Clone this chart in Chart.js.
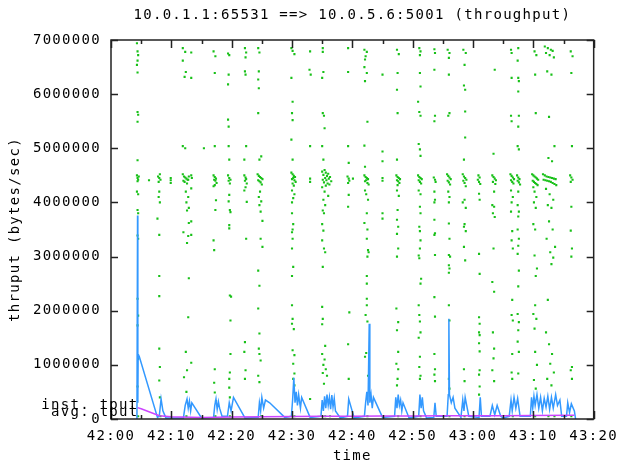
<!DOCTYPE html>
<html>
<head>
<meta charset="utf-8">
<script src="https://cdn.jsdelivr.net/npm/chart.js@4/dist/chart.umd.min.js"></script>
<style>
  body { margin: 0; background: #fff; }
  canvas { display: block; }
</style>
</head>
<body>
<canvas id="tputChart" width="627" height="465"></canvas>
<script>
// seconds after 42:00, bytes/sec
var titleText = '10.0.1.1:65531 ==> 10.0.5.6:5001 (throughput)';
var xTickLabels = ['42:00', '42:10', '42:20', '42:30', '42:40', '42:50', '43:00', '43:10', '43:20'];
var yTickLabels = ['0', '1000000', '2000000', '3000000', '4000000', '5000000', '6000000', '7000000'];

// green dots, instantaneous samples [time, value]
var instTput = [
  // ~42:04
  [4.3,6.94e6],[4.4,6.79e6],[4.5,6.72e6],[4.4,6.62e6],[4.3,6.54e6],[4.4,6.40e6],[4.4,5.67e6],[4.5,5.62e6],[4.4,5.49e6],
  [4.4,4.78e6],[4.3,4.50e6],[4.4,4.45e6],[4.5,4.42e6],[4.6,4.48e6],[4.4,4.39e6],[4.3,4.20e6],[4.5,4.15e6],[4.4,3.86e6],
  [4.5,3.80e6],[4.4,3.39e6],[4.5,3.33e6],[4.4,2.22e6],[4.5,1.91e6],[4.4,1.73e6],[4.5,1.11e6],[4.4,0.60e6],[4.5,0.05e6],
  [6.3,4.41e6],
  // ~42:08
  [7.8,4.48e6],[8.0,4.45e6],[8.2,4.42e6],[7.9,4.38e6],[8.1,4.52e6],[8.0,4.20e6],[7.9,4.10e6],[8.1,4.00e6],[7.7,3.70e6],
  [8.0,3.40e6],[8.0,2.64e6],[8.0,2.27e6],[8.0,1.30e6],[8.1,0.96e6],[8.0,0.71e6],[8.1,0.40e6],[8.2,0.05e6],
  [9.9,4.45e6],[9.9,4.41e6],[9.9,4.36e6],
  // ~42:12
  [11.9,6.85e6],[12.3,6.78e6],[11.9,6.62e6],[12.4,6.41e6],[12.2,6.32e6],[11.9,5.04e6],[12.3,5.00e6],[11.9,4.52e6],
  [12.1,4.48e6],[12.3,4.46e6],[12.5,4.44e6],[12.7,4.42e6],[12.0,4.40e6],[12.2,4.38e6],[12.6,4.35e6],[12.9,4.48e6],
  [12.8,4.42e6],[12.4,4.20e6],[12.8,4.10e6],[12.5,4.00e6],[12.9,3.90e6],[12.6,3.85e6],[12.9,3.62e6],[12.0,3.45e6],
  [12.8,3.38e6],[12.6,3.25e6],[12.9,2.60e6],[12.8,1.88e6],[12.4,1.24e6],[12.6,0.90e6],[12.1,0.77e6],[12.5,0.50e6],[12.5,0.05e6],
  [13.3,6.77e6],[13.3,6.30e6],[13.3,4.50e6],[13.4,4.45e6],[13.3,4.26e6],[13.3,3.65e6],[13.3,3.40e6],[13.3,1.04e6],
  [15.4,5.00e6],
  // ~42:17
  [17.0,6.79e6],[17.3,6.70e6],[17.2,6.39e6],[17.2,5.04e6],[17.0,4.50e6],[17.2,4.47e6],[17.4,4.44e6],[17.1,4.42e6],
  [17.3,4.40e6],[17.5,4.36e6],[17.2,4.32e6],[17.0,4.30e6],[17.4,4.04e6],[17.3,3.86e6],[17.0,3.30e6],[17.1,3.12e6],
  [17.2,0.92e6],[17.1,0.67e6],[17.2,0.49e6],[17.4,0.33e6],[17.3,0.05e6],
  [19.4,6.75e6],[19.6,6.72e6],[19.5,6.36e6],[19.4,6.18e6],[19.4,5.53e6],[19.5,5.40e6],[19.5,5.04e6],[19.6,4.79e6],
  [19.4,4.50e6],[19.6,4.45e6],[19.8,4.42e6],[19.5,4.40e6],[19.7,4.35e6],[19.6,4.14e6],[19.5,4.02e6],[19.7,3.86e6],
  [19.8,3.82e6],[19.6,3.58e6],[19.6,3.52e6],[19.7,2.28e6],[19.9,2.26e6],[19.8,1.82e6],[19.8,1.20e6],[19.7,0.86e6],
  [19.6,0.74e6],[19.6,0.58e6],[19.7,0.40e6],[19.7,0.05e6],
  // ~42:22
  [22.2,6.85e6],[22.4,6.77e6],[22.3,6.68e6],[22.2,6.42e6],[22.3,6.36e6],[22.4,5.04e6],[22.1,4.79e6],[22.1,4.50e6],
  [22.3,4.46e6],[22.4,4.43e6],[22.2,4.40e6],[22.5,4.35e6],[22.3,4.28e6],[22.1,4.22e6],[22.5,4.01e6],[22.4,3.33e6],
  [22.2,1.42e6],[22.1,1.24e6],[22.3,0.90e6],[22.2,0.74e6],
  [24.4,6.85e6],[24.6,6.77e6],[24.5,6.42e6],[24.4,6.27e6],[24.5,6.11e6],[24.4,5.65e6],[24.9,4.85e6],[24.6,4.79e6],
  [24.3,4.52e6],[24.5,4.49e6],[24.7,4.47e6],[24.9,4.45e6],[25.1,4.43e6],[24.4,4.41e6],[24.6,4.39e6],[24.8,4.37e6],
  [25.0,4.33e6],[24.7,4.20e6],[24.5,4.10e6],[24.9,4.02e6],[24.6,3.95e6],[24.8,3.83e6],[25.1,3.66e6],[24.8,3.33e6],
  [25.1,3.18e6],[24.4,2.74e6],[24.6,2.46e6],[24.4,2.04e6],[24.6,1.58e6],[24.5,1.30e6],[24.6,1.20e6],[24.8,1.08e6],
  [24.4,0.80e6],[24.6,0.68e6],[24.9,0.05e6],
  // ~42:30
  [29.9,6.85e6],[30.1,6.80e6],[30.4,6.74e6],[29.9,6.30e6],[30.1,5.86e6],[30.0,5.65e6],[30.1,5.52e6],[29.9,5.16e6],
  [30.1,4.79e6],[29.9,4.55e6],[30.1,4.52e6],[30.3,4.49e6],[30.5,4.47e6],[30.2,4.45e6],[30.0,4.43e6],[30.4,4.41e6],
  [30.6,4.38e6],[30.1,4.35e6],[30.3,4.31e6],[30.0,4.22e6],[30.4,4.15e6],[30.2,4.08e6],[30.0,4.00e6],[30.0,3.80e6],
  [30.2,3.60e6],[30.1,3.50e6],[30.0,3.45e6],[30.1,3.33e6],[30.0,3.15e6],[30.2,2.81e6],[30.0,2.64e6],[30.0,2.10e6],
  [30.1,1.85e6],[30.0,1.76e6],[30.3,1.66e6],[30.1,1.27e6],[30.4,1.18e6],[30.2,1.02e6],[30.4,0.84e6],[30.2,0.74e6],
  [30.4,0.62e6],[30.4,0.05e6],
  [33.0,6.79e6],[32.9,6.45e6],[33.1,6.36e6],[33.0,5.04e6],[33.0,4.44e6],[33.0,4.38e6],[33.0,0.37e6],
  // ~42:36
  [35.1,6.85e6],[35.1,6.78e6],[35.2,6.41e6],[35.0,6.30e6],[35.1,5.65e6],[35.3,5.60e6],[35.4,5.37e6],[35.0,5.04e6],
  [35.2,4.79e6],[35.4,4.60e6],[35.0,4.57e6],[35.6,4.55e6],[36.0,4.53e6],[35.2,4.51e6],[35.8,4.49e6],[36.3,4.47e6],
  [35.5,4.45e6],[36.1,4.44e6],[35.1,4.42e6],[35.7,4.41e6],[36.5,4.39e6],[35.3,4.37e6],[35.9,4.35e6],[36.2,4.33e6],
  [35.6,4.31e6],[35.0,4.28e6],[35.4,4.20e6],[36.0,4.12e6],[35.2,4.05e6],[35.5,3.95e6],[35.1,3.85e6],[35.3,3.80e6],
  [35.0,3.60e6],[35.2,3.48e6],[35.0,3.30e6],[35.3,3.15e6],[35.5,3.08e6],[35.1,2.81e6],[35.0,2.07e6],[35.1,1.85e6],
  [35.0,1.75e6],[35.5,1.35e6],[35.0,1.20e6],[35.4,1.10e6],[35.2,1.00e6],[35.6,0.92e6],[35.1,0.85e6],[35.8,0.80e6],
  [35.3,0.65e6],[35.5,0.05e6],[36.3,0.05e6],
  [39.3,6.85e6],[39.3,6.41e6],[39.3,5.04e6],[39.4,4.73e6],[39.2,4.48e6],[39.4,4.44e6],[39.5,4.40e6],[39.3,4.36e6],
  [39.4,4.14e6],[39.3,3.92e6],[39.5,1.97e6],[39.3,1.38e6],[39.4,0.74e6],
  [40.1,4.44e6],
  // ~42:42
  [42.0,6.82e6],[42.4,6.78e6],[42.2,6.70e6],[42.1,6.64e6],[42.0,6.50e6],[42.4,6.39e6],[42.1,6.24e6],[42.5,5.49e6],
  [42.0,5.05e6],[42.1,4.66e6],[42.0,4.50e6],[42.2,4.47e6],[42.4,4.45e6],[42.6,4.43e6],[42.3,4.41e6],[42.1,4.39e6],
  [42.5,4.36e6],[42.7,4.33e6],[42.1,4.22e6],[42.3,4.15e6],[42.6,4.05e6],[42.4,3.80e6],[42.0,3.62e6],[42.5,3.50e6],
  [42.4,3.33e6],[42.6,3.12e6],[42.7,3.08e6],[42.5,3.00e6],[42.4,2.64e6],[42.4,2.50e6],[42.4,2.22e6],[42.4,2.10e6],
  [42.2,1.92e6],[42.5,1.80e6],[42.3,1.22e6],[42.1,1.15e6],[42.6,0.80e6],[42.5,0.05e6],
  [45.0,6.36e6],[45.0,4.94e6],[45.0,4.76e6],[45.0,4.45e6],[45.0,4.40e6],[45.0,3.80e6],[45.0,3.70e6],
  // ~42:47
  [47.4,6.82e6],[47.7,6.74e6],[47.5,6.39e6],[47.4,6.08e6],[47.5,5.65e6],[47.4,4.79e6],[47.3,4.50e6],[47.5,4.47e6],
  [47.7,4.45e6],[47.9,4.43e6],[47.4,4.41e6],[47.6,4.39e6],[47.8,4.36e6],[47.5,4.32e6],[47.4,4.22e6],[47.7,4.12e6],
  [47.5,3.86e6],[47.4,3.68e6],[47.6,3.55e6],[47.4,3.42e6],[47.6,3.15e6],[47.4,3.00e6],[47.3,2.04e6],[47.6,1.79e6],
  [47.4,1.64e6],[47.6,1.24e6],[47.3,1.02e6],[47.6,0.92e6],[47.5,0.74e6],[47.4,0.62e6],[47.6,0.05e6],
  // ~42:51
  [51.1,6.85e6],[51.3,6.79e6],[51.2,6.72e6],[51.2,6.39e6],[51.3,6.14e6],[50.9,5.86e6],[51.1,5.67e6],[51.3,5.60e6],
  [51.0,5.08e6],[51.2,4.98e6],[51.3,4.86e6],[50.9,4.50e6],[51.1,4.47e6],[51.3,4.45e6],[51.5,4.43e6],[51.0,4.41e6],
  [51.2,4.38e6],[51.4,4.35e6],[51.0,4.22e6],[51.3,4.15e6],[51.2,3.92e6],[51.3,3.80e6],[51.1,3.55e6],[51.2,3.47e6],
  [51.3,3.30e6],[51.2,3.15e6],[51.0,3.02e6],[51.1,2.97e6],[51.4,2.59e6],[51.3,2.50e6],[51.0,2.10e6],[51.1,1.92e6],
  [51.2,1.80e6],[51.3,1.60e6],[51.0,1.50e6],[51.2,1.15e6],[51.1,0.96e6],[51.3,0.80e6],[51.2,0.74e6],[51.3,0.05e6],
  // ~42:53
  [53.6,6.83e6],[53.7,6.76e6],[53.6,6.45e6],[53.7,5.60e6],[53.6,5.50e6],[53.5,4.46e6],[53.7,4.42e6],[53.8,4.38e6],
  [53.6,4.20e6],[53.7,4.05e6],[53.6,4.00e6],[53.6,3.68e6],[53.7,3.43e6],[53.6,3.40e6],[53.7,3.03e6],[53.6,2.25e6],
  [53.7,1.89e6],[53.6,1.20e6],[53.7,0.92e6],[53.6,0.82e6],[53.7,0.70e6],
  // ~42:56
  [55.8,6.82e6],[56.1,6.76e6],[56.0,6.67e6],[56.0,6.36e6],[56.1,5.65e6],[55.9,5.60e6],[55.7,4.52e6],[55.9,4.49e6],
  [56.1,4.46e6],[56.3,4.43e6],[55.8,4.40e6],[56.0,4.37e6],[56.2,4.33e6],[55.9,4.20e6],[56.1,4.10e6],[56.0,4.00e6],
  [56.0,3.61e6],[56.1,3.33e6],[56.0,3.03e6],[56.2,3.00e6],[56.0,2.84e6],[56.1,2.78e6],[56.0,2.70e6],[56.0,2.10e6],
  [56.1,1.82e6],[56.0,0.74e6],[56.1,0.56e6],[56.1,0.05e6],
  [58.4,6.82e6],[58.8,6.76e6],[58.6,6.54e6],[58.5,6.16e6],[58.7,6.08e6],[58.7,5.68e6],[58.7,5.20e6],[58.5,4.79e6],
  [58.3,4.52e6],[58.5,4.48e6],[58.7,4.45e6],[58.9,4.42e6],[58.4,4.40e6],[58.6,4.36e6],[58.8,4.30e6],[58.6,4.05e6],
  [58.3,4.00e6],[58.8,3.90e6],[58.6,3.60e6],[58.5,3.55e6],[58.8,3.47e6],[58.5,3.18e6],[58.7,2.93e6],[58.5,0.92e6],
  [58.6,0.70e6],[58.6,0.05e6],
  // ~43:01
  [60.9,4.50e6],[61.1,4.46e6],[60.8,4.42e6],[61.0,4.38e6],[61.2,4.34e6],[61.0,4.16e6],[61.1,4.05e6],[61.0,3.05e6],
  [61.1,2.68e6],[61.0,1.88e6],[61.1,1.76e6],[61.0,1.60e6],[61.1,1.55e6],[61.0,1.40e6],[61.1,1.25e6],[61.1,0.90e6],
  [61.0,0.82e6],[61.1,0.60e6],[61.0,0.45e6],
  [63.6,6.45e6],[63.4,4.90e6],[63.2,4.50e6],[63.4,4.47e6],[63.6,4.44e6],[63.8,4.41e6],[63.3,4.38e6],[63.7,4.34e6],
  [63.5,4.20e6],[63.2,3.95e6],[63.5,3.92e6],[63.3,3.80e6],[63.6,3.73e6],[63.4,3.15e6],[63.2,2.53e6],[63.5,2.35e6],
  [63.3,1.60e6],[63.5,1.30e6],[63.4,1.12e6],[63.2,0.90e6],[63.5,0.70e6],
  // ~43:06
  [66.3,6.82e6],[66.4,6.76e6],[66.4,6.30e6],[66.3,5.60e6],[66.4,5.50e6],[66.2,4.52e6],[66.4,4.49e6],[66.6,4.46e6],
  [66.8,4.43e6],[66.3,4.41e6],[66.5,4.38e6],[66.7,4.35e6],[66.3,4.22e6],[66.6,4.10e6],[66.4,4.00e6],[66.3,3.83e6],
  [66.5,3.47e6],[66.4,3.30e6],[66.6,3.15e6],[66.5,2.20e6],[66.4,1.92e6],[66.6,1.82e6],[66.5,1.20e6],[66.4,0.86e6],
  [66.5,0.74e6],[66.6,0.05e6],
  [67.5,6.85e6],[67.4,6.62e6],[67.5,6.30e6],[67.6,6.24e6],[67.5,6.05e6],[67.6,5.60e6],[67.5,5.40e6],[67.4,5.04e6],
  [67.6,4.98e6],[67.3,4.50e6],[67.5,4.46e6],[67.7,4.43e6],[67.4,4.40e6],[67.6,4.37e6],[67.8,4.33e6],[67.5,4.20e6],
  [67.4,3.95e6],[67.6,3.83e6],[67.5,3.74e6],[67.4,3.50e6],[67.6,3.33e6],[67.5,3.20e6],[67.4,3.05e6],[67.6,2.74e6],
  [67.5,2.45e6],[67.4,1.94e6],[67.6,1.79e6],[67.5,1.64e6],[67.4,1.43e6],[67.6,1.24e6],[67.5,0.84e6],
  // ~43:10
  [70.2,6.79e6],[70.5,6.72e6],[70.3,6.36e6],[70.4,5.65e6],[69.8,4.52e6],[70.0,4.50e6],[70.2,4.48e6],[70.4,4.46e6],
  [70.6,4.44e6],[70.8,4.42e6],[69.9,4.40e6],[70.1,4.38e6],[70.3,4.36e6],[70.5,4.34e6],[70.7,4.32e6],[70.0,4.28e6],
  [70.2,4.20e6],[70.5,4.10e6],[70.1,4.00e6],[70.4,3.90e6],[70.0,3.60e6],[70.3,3.50e6],[70.2,3.02e6],[70.6,2.78e6],
  [70.4,2.64e6],[70.3,2.10e6],[70.0,1.94e6],[70.5,1.85e6],[70.2,1.67e6],[70.3,1.24e6],[70.6,1.00e6],[70.1,0.72e6],
  [70.4,0.56e6],[70.3,0.05e6],
  [71.9,6.88e6],[72.4,6.85e6],[72.9,6.82e6],[73.2,6.80e6],[72.1,6.76e6],[72.7,6.72e6],[73.4,6.68e6],[72.3,6.42e6],
  [73.0,6.36e6],[72.6,5.58e6],[73.5,5.04e6],[72.5,4.82e6],[73.1,4.76e6],[71.6,4.52e6],[71.9,4.50e6],[72.2,4.48e6],
  [72.5,4.47e6],[72.8,4.46e6],[73.1,4.45e6],[73.4,4.44e6],[73.7,4.43e6],[71.7,4.42e6],[72.0,4.41e6],[72.3,4.40e6],
  [72.6,4.39e6],[72.9,4.38e6],[73.2,4.36e6],[73.5,4.34e6],[73.8,4.32e6],[72.1,4.25e6],[72.7,4.15e6],[73.3,4.05e6],
  [72.4,3.95e6],[73.0,3.90e6],[72.6,3.65e6],[73.2,3.50e6],[72.2,3.33e6],[73.6,3.18e6],[72.8,3.08e6],[73.3,2.98e6],
  [73.0,2.86e6],[72.4,2.20e6],[72.1,1.60e6],[72.6,1.38e6],[73.1,1.20e6],[72.8,1.02e6],[73.4,0.86e6],[72.3,0.74e6],
  [73.0,0.62e6],[72.5,0.05e6],[73.5,0.05e6],
  // ~43:16
  [76.2,6.79e6],[76.5,6.70e6],[76.3,6.39e6],[76.4,5.04e6],[76.1,4.50e6],[76.3,4.46e6],[76.5,4.42e6],[76.2,4.38e6],
  [76.3,3.92e6],[76.2,3.48e6],[76.4,3.15e6],[76.3,3.00e6],[76.4,0.96e6],[76.2,0.90e6],[76.4,0.74e6],[76.3,0.05e6]
];

// blue line [time, value]
var blueTput = [
  [4.3,0],[4.4,3.76e6],[4.45,0.3e6],[4.5,1.2e6],[4.7,1.15e6],[7.7,0.03e6],[8.0,0.05e6],[8.3,0.37e6],[8.6,0.15e6],
  [9.1,0.02e6],[12.0,0.02e6],[12.3,0.25e6],[12.6,0.37e6],[12.8,0.2e6],[13.0,0.33e6],[13.2,0.15e6],[13.4,0.3e6],
  [15.0,0.02e6],[17.0,0.03e6],[17.2,0.25e6],[17.4,0.37e6],[17.6,0.18e6],[17.8,0.32e6],[18.0,0.2e6],[18.4,0.05e6],
  [19.3,0.05e6],[19.6,0.3e6],[19.9,0.15e6],[20.3,0.4e6],[22.2,0.02e6],[24.4,0.03e6],[24.6,0.3e6],[24.8,0.15e6],
  [25.0,0.4e6],[25.3,0.2e6],[25.6,0.35e6],[26.3,0.3e6],[28.8,0.03e6],[29.9,0.05e6],[30.1,0.35e6],[30.3,0.76e6],
  [30.5,0.3e6],[30.7,0.5e6],[30.9,0.25e6],[31.1,0.45e6],[31.4,0.2e6],[31.6,0.4e6],[33.0,0.03e6],[34.8,0.05e6],
  [35.0,0.35e6],[35.2,0.15e6],[35.4,0.42e6],[35.6,0.2e6],[35.8,0.45e6],[36.0,0.25e6],[36.2,0.4e6],[36.4,0.18e6],
  [36.6,0.44e6],[36.8,0.22e6],[37.0,0.38e6],[37.2,0.15e6],[38.0,0.02e6],[39.2,0.05e6],[39.4,0.37e6],[40.3,0.02e6],
  [42.0,0.05e6],[42.2,0.3e6],[42.4,0.5e6],[42.6,0.25e6],[42.8,1.76e6],[42.9,0.3e6],[43.1,0.45e6],[43.3,0.2e6],
  [43.5,0.4e6],[45.0,0.03e6],[47.0,0.05e6],[47.2,0.4e6],[47.4,0.2e6],[47.6,0.45e6],[47.8,0.25e6],[48.0,0.35e6],
  [48.2,0.15e6],[48.4,0.3e6],[49.4,0.02e6],[51.0,0.05e6],[51.2,0.45e6],[51.4,0.2e6],[51.6,0.4e6],[51.8,0.15e6],
  [52.3,0.02e6],[53.5,0.03e6],[53.7,0.3e6],[53.9,0.05e6],[55.7,0.05e6],[55.9,0.45e6],[56.0,1.85e6],[56.1,0.45e6],
  [56.4,0.3e6],[56.7,0.4e6],[57.0,0.2e6],[58.0,0.03e6],[58.3,0.35e6],[58.5,0.15e6],[58.7,0.4e6],[59.3,0.05e6],
  [61.0,0.03e6],[61.2,0.4e6],[61.4,0.05e6],[62.8,0.05e6],[63.2,0.25e6],[63.6,0.08e6],[64.0,0.25e6],[64.6,0.05e6],
  [65.0,0.02e6],[66.0,0.05e6],[66.3,0.35e6],[66.5,0.15e6],[66.8,0.4e6],[67.1,0.2e6],[67.4,0.38e6],[67.8,0.05e6],
  [69.5,0.05e6],[69.7,0.4e6],[69.9,0.2e6],[70.1,0.42e6],[70.3,0.25e6],[70.6,0.45e6],[70.9,0.2e6],[71.2,0.4e6],
  [71.5,0.15e6],[71.8,0.38e6],[72.1,0.22e6],[72.4,0.42e6],[72.7,0.18e6],[73.0,0.4e6],[73.3,0.2e6],[73.7,0.45e6],
  [74.0,0.25e6],[74.4,0.35e6],[74.7,0.05e6],[75.5,0.05e6],[75.7,0.3e6],[76.0,0.12e6],[76.3,0.28e6],[76.8,0.15e6],
  [77.0,0]
];

// magenta line, running average [time, value]
var avgTput = [
  [4.4,0.21e6],[5.0,0.19e6],[8.0,0.06e6],[10,0.04e6],[15,0.03e6],[20,0.035e6],[25,0.04e6],[30,0.045e6],
  [35,0.05e6],[40,0.05e6],[45,0.055e6],[50,0.055e6],[55,0.06e6],[60,0.06e6],[65,0.06e6],[70,0.065e6],[76.8,0.07e6]
];

var monoFont = 'DejaVu Sans Mono';
var textSpacing = '1.3px';

function toXY(list) {
  var out = [];
  for (var i = 0; i < list.length; i++) {
    out.push({ x: list[i][0], y: list[i][1] });
  }
  return out;
}

// xplot look: spaced mono text, inside ticks, boxed frame, labels
var xplotPlugin = {
  id: 'xplot',
  beforeLayout: function(chart) { chart.ctx.letterSpacing = textSpacing; },
  beforeDraw: function(chart) { chart.ctx.letterSpacing = textSpacing; },
  afterDraw: function(chart) {
    var ctx = chart.ctx;
    var a = chart.chartArea;
    var xs = chart.scales.x;
    var ys = chart.scales.y;
    ctx.save();
    ctx.letterSpacing = textSpacing;
    ctx.strokeStyle = '#222';
    ctx.lineWidth = 1.5;
    ctx.strokeRect(a.left, a.top, a.right - a.left, a.bottom - a.top);

    ctx.lineWidth = 1.5;
    ctx.beginPath();
    for (var s = 0; s <= 80; s += 5) {
      var px = Math.round(xs.getPixelForValue(s)) + 0.5;
      var len = (s % 10 === 0) ? 8 : 4;
      ctx.moveTo(px, a.bottom); ctx.lineTo(px, a.bottom - len);
      ctx.moveTo(px, a.top); ctx.lineTo(px, a.top + len);
    }
    for (var v = 0; v <= 7000000; v += 1000000) {
      var py = Math.round(ys.getPixelForValue(v)) + 0.5;
      ctx.moveTo(a.left, py); ctx.lineTo(a.left + 7, py);
      ctx.moveTo(a.right, py); ctx.lineTo(a.right - 7, py);
    }
    ctx.stroke();

    ctx.fillStyle = '#000';
    ctx.font = '14px "' + monoFont + '"';
    ctx.textAlign = 'center';
    ctx.textBaseline = 'middle';
    ctx.fillText(titleText, (a.left + a.right) / 2, 15);

    var lx = xs.getPixelForValue(avgTput[0][0]) + 1;
    ctx.textAlign = 'right';
    ctx.fillText('inst. tput', lx, 405);
    ctx.fillText('avg. tput', lx, 412);
    ctx.restore();
  }
};

var ctx = document.getElementById('tputChart');

var tputChart = new Chart(ctx, {
  type: 'scatter',
  data: {
    datasets: [{
      label: 'avg. tput',
      data: toXY(avgTput),
      showLine: true,
      borderColor: '#cc44ff',
      borderWidth: 1.5,
      pointRadius: 0,
      order: 0
    }, {
      label: 'blue',
      data: toXY(blueTput),
      showLine: true,
      borderColor: '#3399ff',
      borderWidth: 1.5,
      pointRadius: 0,
      order: 1
    }, {
      label: 'inst. tput',
      data: toXY(instTput),
      showLine: false,
      pointStyle: 'rect',
      pointRadius: 1.5,
      pointBorderWidth: 0,
      backgroundColor: '#18c018',
      order: 2
    }]
  },
  options: {
    responsive: false,
    animation: false,
    layout: { padding: { top: 40, right: 27, left: 0, bottom: 0 } },
    plugins: {
      legend: { display: false },
      tooltip: { enabled: false }
    },
    scales: {
      x: {
        type: 'linear',
        min: 0,
        max: 80,
        grid: { display: false, drawTicks: false },
        border: { display: false },
        ticks: {
          stepSize: 10,
          padding: 9,
          color: '#000',
          font: { family: monoFont, size: 14 },
          maxRotation: 0,
          callback: function(value, index) { return xTickLabels[index]; }
        },
        title: {
          display: true,
          text: 'time',
          color: '#000',
          font: { family: monoFont, size: 14 },
          padding: { top: 0, bottom: 0 }
        },
        afterFit: function(scale) { scale.height = 46; }
      },
      y: {
        min: 0,
        max: 7000000,
        grid: { display: false, drawTicks: false },
        border: { display: false },
        ticks: {
          stepSize: 1000000,
          padding: 10,
          color: '#000',
          font: { family: monoFont, size: 14 },
          callback: function(value, index) { return yTickLabels[index]; }
        },
        title: {
          display: true,
          text: 'thruput (bytes/sec)',
          color: '#000',
          font: { family: monoFont, size: 14 },
          padding: { top: 7, bottom: 0 }
        },
        afterFit: function(scale) { scale.width = 111; }
      }
    }
  },
  plugins: [xplotPlugin]
});
</script>
</body>
</html>
